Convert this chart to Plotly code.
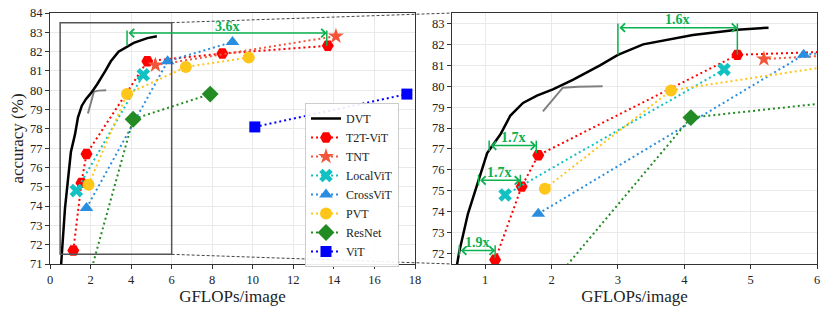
import plotly.graph_objects as go

# ---------------- data ----------------
dvt_x = [0.55, 0.61, 0.74, 0.9, 1.03, 1.23, 1.38, 1.57, 1.78, 2.02, 2.32, 2.73, 3.0, 3.38, 4.13, 4.8, 5.27]
dvt_y = [71.0, 72.1, 73.9, 75.5, 76.8, 77.7, 78.6, 79.2, 79.55, 79.85, 80.3, 81.0, 81.5, 82.0, 82.45, 82.7, 82.8]
gray_x = [1.87, 2.03, 2.17, 2.4, 2.77]
gray_y = [78.8, 79.4, 79.93, 79.98, 80.0]
t2t_x = [1.15, 1.55, 1.8, 4.8, 8.5, 13.7]
t2t_y = [71.7, 75.2, 76.7, 81.5, 81.9, 82.3]
tnt_x = [5.2, 14.1]
tnt_y = [81.3, 82.8]
local_x = [1.3, 4.6]
local_y = [74.8, 80.8]
cross_x = [1.8, 5.8, 9.0]
cross_y = [73.9, 81.5, 82.5]
pvt_x = [1.9, 3.8, 6.7, 9.8]
pvt_y = [75.1, 79.8, 81.2, 81.7]
resnet_x = [1.8, 4.1, 7.9]
resnet_y = [69.8, 78.5, 79.8]
vit_x = [10.1, 17.6]
vit_y = [78.1, 79.8]

left_xticks = [0, 2, 4, 6, 8, 10, 12, 14, 16, 18]
left_yticks = list(range(71, 85))
right_xticks = [1, 2, 3, 4, 5, 6]
right_yticks = list(range(72, 84))

left_xrange = [0, 18]
left_yrange = [71, 84]
right_xrange = [0.5, 6]
right_yrange = [71.5, 83.5]

# speedup annotations: (axis, y, x_start, x_end, label, label_x, label_y, tick_top, tick_bot_start, tick_bot_end)
speedups = [
    ("left", 82.96, 3.8, 13.65, "3.6x", 8.75, 83.3, 83.1, 82.3, 82.3),
    ("right", 82.8, 3.0, 4.8, "1.6x", 3.9, 83.17, 83.0, 81.5, 81.5),
    ("right", 77.16, 1.06, 1.77, "1.7x", 1.42, 77.55, 77.4, 76.9, 76.8),
    ("right", 75.5, 0.9, 1.53, "1.7x", 1.21, 75.88, 75.77, 75.25, 75.2),
    ("right", 72.14, 0.61, 1.15, "1.9x", 0.89, 72.55, 72.4, 71.9, 71.8),
]

FONT = "Liberation Serif"
GREEN = "#0bb04f"
DOT = "2px,3px"

series = [
    ("T2T-ViT", t2t_x, t2t_y, "#ff0000", "hexagon2", 12),
    ("TNT", tnt_x, tnt_y, "#f4553a", "star", 12),
    ("LocalViT", local_x, local_y, "#12c2c2", "x", 12),
    ("CrossViT", cross_x, cross_y, "#2a8ee0", "triangle-up", 12),
    ("PVT", pvt_x, pvt_y, "#ffc61a", "circle", 12),
    ("ResNet", resnet_x, resnet_y, "#238b23", "diamond", 13),
    ("ViT", vit_x, vit_y, "#0000ff", "square", 11),
]

fig = go.Figure()
for ax, show in (("", True), ("2", False)):
    xa, ya = "x" + ax, "y" + ax
    fig.add_trace(go.Scatter(x=gray_x, y=gray_y, mode="lines", line=dict(color="#808080", width=2),
                             showlegend=False, xaxis=xa, yaxis=ya, hoverinfo="skip"))
    fig.add_trace(go.Scatter(x=dvt_x, y=dvt_y, mode="lines", name="DVT", line=dict(color="black", width=2.5),
                             showlegend=show, legendrank=1, xaxis=xa, yaxis=ya))
    for i, (name, xs, ys, col, sym, sz) in enumerate(series):
        fig.add_trace(go.Scatter(x=xs, y=ys, mode="lines+markers", name=name,
                                 line=dict(color=col, width=2, dash=DOT),
                                 marker=dict(color=col, symbol=sym, size=sz, line=dict(width=0)),
                                 showlegend=show, legendrank=2 + i, xaxis=xa, yaxis=ya))

# domains
ml, mr, mt, mb = 50, 13, 13, 49
W, H = 830, 313
pw = W - ml - mr
left_dom = [0, (415 - ml) / pw]
right_dom = [(452 - ml) / pw, 1]

axis_common = dict(showline=True, mirror=True, linecolor="#333", linewidth=1.2, ticks="outside",
                   ticklen=4, tickcolor="#333", showgrid=True, gridcolor="#e9e9e9", gridwidth=1,
                   zeroline=False, automargin=False, tickfont=dict(family=FONT, size=12.5, color="#222"))

fig.update_layout(
    width=W, height=H, margin=dict(l=ml, r=mr, t=mt, b=mb),
    plot_bgcolor="white", paper_bgcolor="white",
    font=dict(family=FONT, color="#222"),
    xaxis=dict(domain=left_dom, range=left_xrange, tickvals=left_xticks, anchor="y",
               title=dict(text="GFLOPs/image", font=dict(family=FONT, size=17), standoff=4), **axis_common),
    yaxis=dict(domain=[0, 1], range=left_yrange, tickvals=left_yticks, anchor="x",
               title=dict(text="accuracy (%)", font=dict(family=FONT, size=17), standoff=1), **axis_common),
    xaxis2=dict(domain=right_dom, range=right_xrange, tickvals=right_xticks, anchor="y2",
                title=dict(text="GFLOPs/image", font=dict(family=FONT, size=17), standoff=4), **axis_common),
    yaxis2=dict(domain=[0, 1], range=right_yrange, tickvals=right_yticks, anchor="x2", **axis_common),
    legend=dict(x=(305 - ml) / pw, y=(H - mb - 103) / (H - mt - mb), xanchor="left", yanchor="top",
                bgcolor="rgba(255,255,255,0.9)", bordercolor="#cccccc", borderwidth=1,
                font=dict(family=FONT, size=12, color="#222"), tracegroupgap=0, itemwidth=30),
)

# zoom rectangle in the left plot
fig.add_shape(type="rect", xref="x", yref="y", x0=right_xrange[0], x1=right_xrange[1],
              y0=right_yrange[0], y1=right_yrange[1], line=dict(color="#555", width=1.5), layer="above")

# connecting dashed lines (paper coords computed from ranges)
def lpx(v):
    return left_dom[0] + (v - left_xrange[0]) / (left_xrange[1] - left_xrange[0]) * (left_dom[1] - left_dom[0])

def lpy(v):
    return (v - left_yrange[0]) / (left_yrange[1] - left_yrange[0])

fig.add_shape(type="line", xref="paper", yref="paper", x0=lpx(right_xrange[1]), y0=lpy(right_yrange[1]),
              x1=right_dom[0], y1=1, line=dict(color="#444", width=1, dash="3px,2px"))
fig.add_shape(type="line", xref="paper", yref="paper", x0=lpx(right_xrange[1]), y0=lpy(right_yrange[0]),
              x1=right_dom[0], y1=0, line=dict(color="#444", width=1, dash="3px,2px"))

# speedup markers
for side, yy, xs, xe, lab, lx, ly, ttop, tb1, tb2 in speedups:
    xr, yr = ("x", "y") if side == "left" else ("x2", "y2")
    fig.add_annotation(xref=xr, yref=yr, axref=xr, ayref=yr, x=xe, y=yy, ax=xs, ay=yy, text="",
                       showarrow=True, arrowhead=4, startarrowhead=4, arrowside="end+start",
                       arrowsize=1.1, startarrowsize=1.1, arrowwidth=1.5, arrowcolor=GREEN)
    fig.add_shape(type="line", xref=xr, yref=yr, x0=xs, x1=xs, y0=ttop, y1=tb1, line=dict(color=GREEN, width=1.5))
    fig.add_shape(type="line", xref=xr, yref=yr, x0=xe, x1=xe, y0=ttop, y1=tb2, line=dict(color=GREEN, width=1.5))
    fig.add_annotation(xref=xr, yref=yr, x=lx, y=ly, text="<b>%s</b>" % lab, showarrow=False,
                       font=dict(family=FONT, size=14, color=GREEN))

fig.write_html("out.html", config={"displayModeBar": False},
               post_script="document.body.style.margin='0';document.body.style.overflow='hidden';")
